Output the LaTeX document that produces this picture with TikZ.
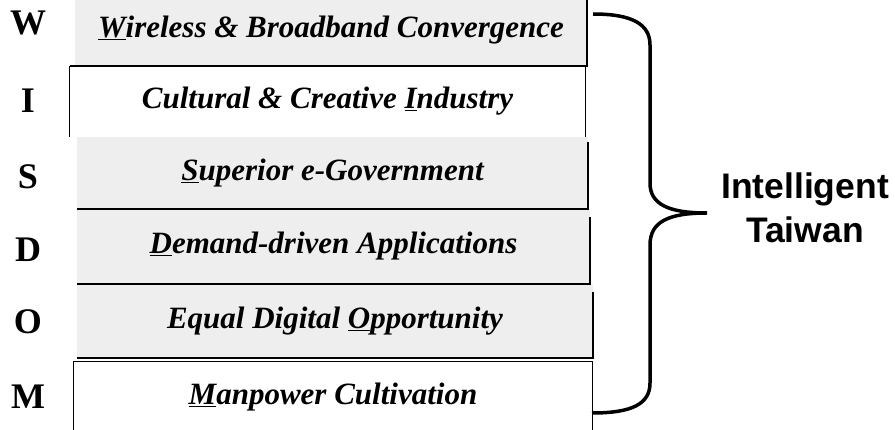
\documentclass[tikz,border=0pt]{standalone}
\usepackage{fontspec}
\setmainfont{Liberation Serif}
\newfontfamily\arialfont{Liberation Sans}
\tikzset{
  band/.style={rectangle, inner sep=0pt, font=\fontsize{31}{36}\selectfont\bfseries\itshape},
  shaded/.style={band, fill=gray!13},
  plain/.style={band, fill=white},
  tag/.style={inner sep=0pt, font=\fontsize{36}{40}\selectfont\bfseries},
  edge/.style={line width=2.4pt},
  rim/.style={line width=1pt},
}
\begin{document}
\begin{tikzpicture}[x=1pt,y=-1pt]
  \useasboundingbox (0,0) rectangle (895,430);
  \clip (0,0) rectangle (895,430);
  % bands
  \node[shaded,minimum width=512pt,minimum height=72pt] at (331,30) (wireless) {\underline{W}ireless \& Broadband Convergence};
  \node[plain,minimum width=515pt,minimum height=71pt] at (327.5,101.5) (cultural) {Cultural \& Creative \underline{I}ndustry};
  \node[shaded,minimum width=511pt,minimum height=72pt] at (332.5,173) (egov) {\underline{S}uperior e-Government};
  \node[shaded,minimum width=513pt,minimum height=75pt] at (333.5,246.5) (demand) {\underline{D}emand-driven Applications};
  \node[shaded,minimum width=516pt,minimum height=74pt] at (335,321) (equal) {Equal Digital \underline{O}pportunity};
  \node[plain,minimum width=518pt,minimum height=70pt] at (333,397) (manpower) {\underline{M}anpower Cultivation};
  % letters
  \node[tag] at (28,23) (lw) {W};
  \node[tag] at (28,101) (li) {I};
  \node[tag] at (28,177) (ls) {S};
  \node[tag] at (28,250) (ld) {D};
  \node[tag] at (28,322) (lo) {O};
  \node[tag] at (28,397) (lm) {M};
  % edges
  \draw[edge] (wireless.north east) -- (wireless.south east) -- ([xshift=-5pt]wireless.south west);
  \draw[rim] (cultural.north west) -- (cultural.south west);
  \draw[rim] (cultural.north east) -- (cultural.south east);
  \draw[edge] ([yshift=-5pt]egov.north east) -- (egov.south east) -- (egov.south west);
  \draw[edge] ([yshift=-8pt]demand.north east) -- (demand.south east) -- (demand.south west);
  \draw[edge] ([yshift=-8pt]equal.north east) -- (equal.south east) -- (equal.south west);
  \draw[rim] (manpower.south west) -- (manpower.north west) -- (manpower.north east) -- (manpower.south east);
  % brace
  \coordinate (tip) at (707,213);
  \draw[line width=3.5pt] (593,14) .. controls (632,14) and (650,24) .. (650,45) -- (650,183)
    .. controls (650,204) and (668,213) .. (tip)
    .. controls (668,213) and (650,222) .. (650,245) -- (650,383)
    .. controls (650,404) and (632,413) .. (592,413);
  \node[align=center, inner sep=0pt, font=\arialfont\fontsize{35.5}{44}\selectfont\bfseries] at (805,208) (goal) {Intelligent\\Taiwan};
\end{tikzpicture}
\end{document}
